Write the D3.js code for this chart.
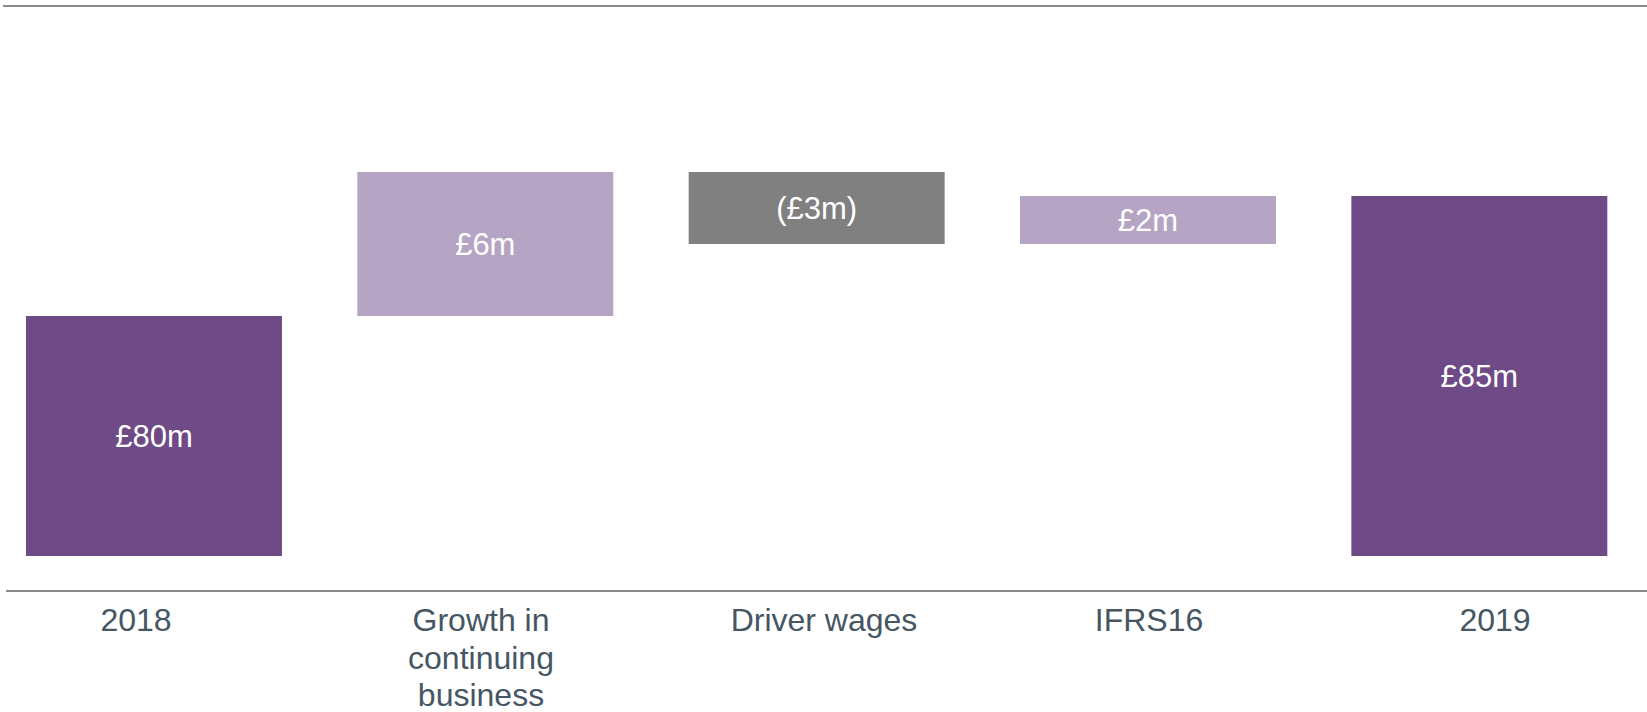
<!DOCTYPE html>
<html>
<head>
<meta charset="utf-8">
<script src="https://cdn.jsdelivr.net/npm/d3@7"></script>
<style>
  html, body { margin: 0; padding: 0; background: #ffffff; }
  svg { display: block; }
  text { font-family: "Liberation Sans", Arial, Helvetica, sans-serif; }
</style>
</head>
<body>
<div id="chart"></div>
<script>
// ---- data ----
const categories = ["2018", "Growth in continuing business", "Driver wages", "IFRS16", "2019"];
const categoryLines = [["2018"], ["Growth in", "continuing", "business"], ["Driver wages"], ["IFRS16"], ["2019"]];
const values = [80, 6, -3, 2, 85];
const kinds = ["total", "delta", "delta", "delta", "total"];
const valueLabels = ["£80m", "£6m", "(£3m)", "£2m", "£85m"];

// ---- layout ----
const W = 1647, H = 712;
const colors = { total: "#6E4A86", up: "#B5A4C3", down: "#808080" };
const labelCenters = [136, 481, 824, 1149, 1495];

const svg = d3.select("#chart").append("svg")
  .attr("width", W).attr("height", H)
  .style("background", "#ffffff");

// build waterfall segments
let running = 0;
const floor = 70;
const bars = categories.map((c, i) => {
  let y0, y1, kind;
  if (kinds[i] === "total") {
    y0 = floor; y1 = values[i]; running = values[i]; kind = "total";
  } else {
    y0 = running; y1 = running + values[i]; running = y1;
    kind = values[i] >= 0 ? "up" : "down";
  }
  return { cat: c, lo: Math.min(y0, y1), hi: Math.max(y0, y1), kind, label: valueLabels[i], lines: categoryLines[i] };
});

const x = d3.scaleBand()
  .domain(categories)
  .range([-11.7, 1645])
  .paddingInner(0.2275)
  .paddingOuter(0.11375);

const xLabel = d3.scaleOrdinal()
  .domain(categories)
  .range(labelCenters);

const y = d3.scaleLinear()
  .domain([70, 85])
  .range([556, 196]);

// top rule
svg.append("line")
  .attr("x1", 3).attr("x2", W)
  .attr("y1", 6).attr("y2", 6)
  .attr("stroke", "#8C8C8C").attr("stroke-width", 2);

// bars
svg.append("g").selectAll("rect")
  .data(bars).join("rect")
  .attr("x", d => x(d.cat))
  .attr("width", x.bandwidth())
  .attr("y", d => y(d.hi))
  .attr("height", d => y(d.lo) - y(d.hi))
  .attr("fill", d => colors[d.kind]);

// value labels
svg.append("g").selectAll("text")
  .data(bars).join("text")
  .attr("x", d => x(d.cat) + x.bandwidth() / 2)
  .attr("y", d => (y(d.hi) + y(d.lo)) / 2)
  .attr("dy", "0.36em")
  .attr("text-anchor", "middle")
  .attr("fill", "#ffffff")
  .attr("font-size", "31px")
  .text(d => d.label);

// axis line
svg.append("line")
  .attr("x1", 6).attr("x2", W)
  .attr("y1", 591).attr("y2", 591)
  .attr("stroke", "#8A8A8A").attr("stroke-width", 2);

// category labels
const lab = svg.append("g").selectAll("text")
  .data(bars).join("text")
  .attr("x", d => xLabel(d.cat))
  .attr("y", 631)
  .attr("text-anchor", "middle")
  .attr("fill", "#465663")
  .attr("font-size", "32px");
lab.selectAll("tspan")
  .data(d => d.lines.map(l => ({ l, cx: xLabel(d.cat) })))
  .join("tspan")
  .attr("x", t => t.cx)
  .attr("dy", (t, i) => i === 0 ? 0 : 37.5)
  .text(t => t.l);
</script>
</body>
</html>
